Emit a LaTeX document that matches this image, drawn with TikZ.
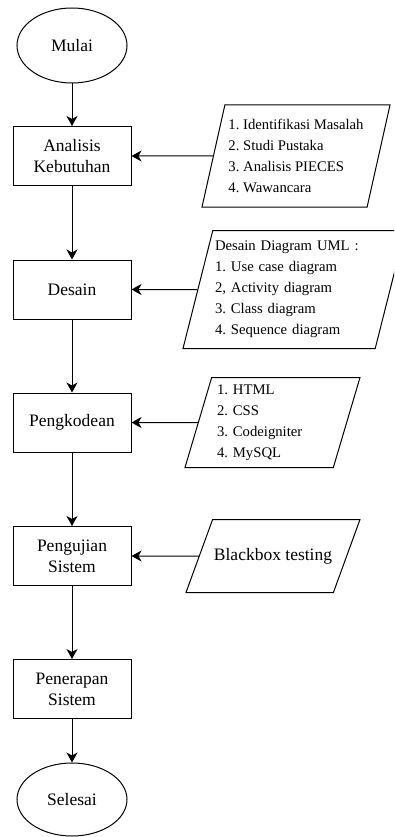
\documentclass[tikz,border=0pt]{standalone}
\usepackage{fontspec}
\setmainfont{Liberation Serif}
\usetikzlibrary{shapes.geometric,arrows.meta}
\tikzset{
  proses/.style={draw,line width=1pt,minimum width=118pt,minimum height=59pt,align=center,font=\rmfamily\fontsize{17.5}{21}\selectfont},
  terminal/.style={draw,ellipse,line width=1pt,minimum width=110pt,minimum height=75pt,font=\rmfamily\fontsize{17.5}{21}\selectfont},
  masukan/.style={draw,trapezium,trapezium stretches body,line width=1pt,inner xsep=0pt,align=left,font=\rmfamily\frenchspacing\fontsize{14.7}{21}\selectfont},
  panah/.style={line width=1pt,-{Stealth[length=10pt,width=11pt,inset=3pt]}}
}

\begin{document}
\begin{tikzpicture}[x=1pt,y=-1pt]
\useasboundingbox (0,0) rectangle (394,837);
\clip (0,0) rectangle (394,837);
\node[terminal] (mulai) at (72,45.5) {Mulai};
\node[proses] (analisis) at (72,156) {Analisis\\Kebutuhan};
\node[proses] (desain) at (72,289.5) {Desain};
\node[proses] (kode) at (72,422.5) {Pengkodean};
\node[proses] (uji) at (72,556) {Pengujian\\Sistem};
\node[proses] (terap) at (72,689) {Penerapan\\Sistem};
\node[terminal,minimum height=73pt] (selesai) at (72,799.5) {Selesai};

\node[masukan,trapezium left angle=76.8,trapezium right angle=103.2,inner ysep=12pt,minimum width=188pt,minimum height=102pt] (metode) at (296,156) {1. Identifikasi Masalah\\2. Studi Pustaka\\3. Analisis PIECES\\4. Wawancara};
\node[masukan,trapezium left angle=75.7,trapezium right angle=104.3,inner ysep=10pt,minimum width=222pt,minimum height=118pt,text width=158pt] (uml) at (294,289.5) {Desain Diagram UML :\\1. Use case diagram\\2, Activity diagram\\3. Class diagram\\4. Sequence diagram};
\node[masukan,trapezium left angle=73.3,trapezium right angle=106.7,inner ysep=6.5pt,minimum width=175pt,minimum height=90pt,text width=111pt] (bahasa) at (272.5,422.5) {1. HTML\\2. CSS\\3. Codeigniter\\4. MySQL};
\node[masukan,trapezium left angle=69.7,trapezium right angle=110.3,inner ysep=28pt,minimum width=174pt,minimum height=73pt,font=\rmfamily\fontsize{17.5}{21}\selectfont] (blackbox) at (273,556) {Blackbox testing};

\draw[panah] (mulai) -- (analisis);
\draw[panah] (analisis) -- (desain);
\draw[panah] (desain) -- (kode);
\draw[panah] (kode) -- (uji);
\draw[panah] (uji) -- (terap);
\draw[panah] (terap) -- (selesai);
\draw[panah] (metode) -- (analisis);
\draw[panah] (uml) -- (desain);
\draw[panah] (bahasa) -- (kode);
\draw[panah] (blackbox) -- (uji);
\end{tikzpicture}
\end{document}
